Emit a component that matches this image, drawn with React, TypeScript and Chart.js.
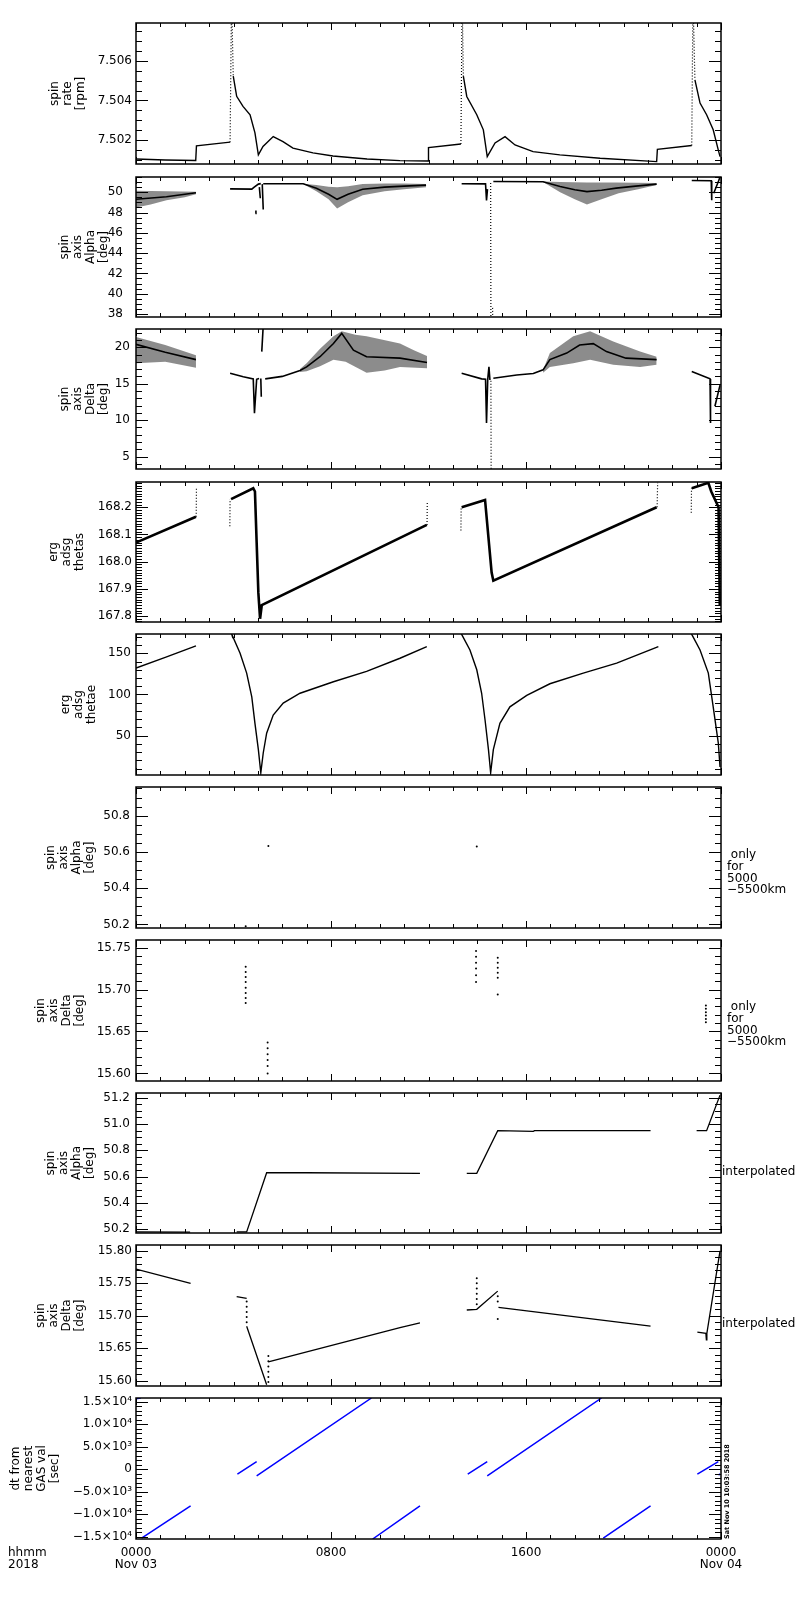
import React, { useEffect, useRef } from 'react';
import { Chart, registerables } from 'chart.js';

Chart.register(...registerables);
Chart.defaults.font.family = '"DejaVu Sans", sans-serif';
Chart.defaults.color = '#000';

// points are [hours after 0000 UT Nov 03, value]; null breaks the trace
type Pt = [number, number] | null;

const hourTicks = [0, 8, 16, 24];
const hourTickLabels = [['0000', 'Nov 03'], ['0800'], ['1600'], ['0000', 'Nov 04']];

// spin rate [rpm]
const spinRate: Pt[] = [
  [0, 7.50105], [1.2, 7.5010], [2.45, 7.50098], [2.48, 7.50171], [3.86, 7.5019], null,
  [3.99, 7.50522], [4.13, 7.50421], [4.39, 7.5037], [4.68, 7.50328], [4.88, 7.50237], [5.02, 7.50126],
  [5.21, 7.50168], [5.63, 7.50218], [6.03, 7.50193], [6.44, 7.5016], [7.26, 7.50136], [8.08, 7.5012],
  [9.48, 7.50105], [10.83, 7.50097], [11.98, 7.50095], [12.0, 7.50163], [13.33, 7.50181], null,
  [13.43, 7.50522], [13.57, 7.5042], [13.98, 7.50328], [14.25, 7.50252], [14.41, 7.50117], [14.73, 7.50186],
  [15.14, 7.50218], [15.55, 7.50176], [16.29, 7.50142], [17.39, 7.50126], [19.04, 7.50109], [21.36, 7.50092],
  [21.39, 7.50154], [22.8, 7.50173], null,
  [22.93, 7.50504], [23.14, 7.50387], [23.41, 7.50328], [23.68, 7.50252], [23.89, 7.5015], [23.96, 7.50117],
];
const spinRateSpikes: Pt[] = [
  [3.86, 7.5019], [3.92, 7.5092], [3.99, 7.50522], null,
  [13.33, 7.50181], [13.38, 7.5092], [13.43, 7.50522], null,
  [22.8, 7.50173], [22.85, 7.5092], [22.93, 7.50504],
];
const rateTicks = [7.502, 7.504, 7.506];
const rateTickLabels = ['7.502', '7.504', '7.506'];

// spin axis alpha [deg]
const alphaLine: Pt[] = [
  [0, 49.3], [1.25, 49.55], [2.46, 49.95], null,
  [3.86, 50.33], [4.75, 50.3], [4.85, 50.5], [5.02, 50.8], [5.12, 50.85], null,
  [5.06, 50.5], [5.1, 49.4], null, [5.18, 50.8], [5.22, 48.3], null, [4.9, 47.9], [4.92, 48.2], null,
  [5.22, 50.83], [6.86, 50.83], [7.4, 50.4], [7.9, 49.8], [8.25, 49.3], [8.7, 49.8], [9.3, 50.3],
  [10.2, 50.5], [11.0, 50.6], [11.9, 50.7], null,
  [13.36, 50.83], [14.34, 50.82], [14.38, 49.2], [14.42, 50.3], null,
  [14.66, 51.05], [16.7, 51.03], [17.4, 50.56], [18.0, 50.25], [18.5, 50.06], [19.1, 50.2],
  [19.7, 50.4], [20.5, 50.6], [21.36, 50.8], null,
  [22.8, 51.16], [23.6, 51.13], [23.62, 49.2], null, [23.7, 49.9], [23.75, 50.2], [23.9, 51.1], [23.96, 51.5],
];
const alphaDrop: Pt[] = [[14.55, 50.9], [14.56, 37.5], null, [14.63, 38.6], [14.635, 37.5]];
const alphaBandTop: Pt[][] = [
  [[0, 50.15], [1.25, 50.1], [2.46, 50.05]],
  [[6.86, 50.83], [7.4, 50.7], [7.9, 50.55], [8.25, 50.5], [8.7, 50.6], [9.3, 50.8], [10.2, 50.85], [11.0, 50.85], [11.9, 50.82]],
  [[16.7, 51.05], [17.4, 51.0], [18.5, 50.95], [19.7, 50.95], [21.36, 50.9]],
];
const alphaBandLow: Pt[][] = [
  [[0, 48.5], [0.6, 48.8], [1.25, 49.2], [2.0, 49.5], [2.46, 49.8]],
  [[6.86, 50.8], [7.4, 50.1], [7.9, 49.3], [8.25, 48.4], [8.7, 49.0], [9.3, 49.7], [10.2, 50.1], [11.0, 50.3], [11.9, 50.5]],
  [[16.7, 51.0], [17.4, 50.0], [18.0, 49.3], [18.5, 48.8], [19.1, 49.3], [19.8, 49.9], [20.6, 50.3], [21.36, 50.7]],
];
const alphaTicks = [38, 40, 42, 44, 46, 48, 50];
const alphaTickLabels = ['38', '40', '42', '44', '46', '48', '50'];

// spin axis delta [deg]
const deltaLine: Pt[] = [
  [0, 20.4], [1.2, 19.3], [2.46, 18.3], null,
  [3.86, 16.44], [4.4, 15.95], [4.81, 15.66], [4.86, 10.96], [4.95, 15.6], [5.05, 15.7], null,
  [5.12, 15.7], [5.14, 13.2], null, [5.16, 19.4], [5.22, 23.0], null,
  [5.3, 15.66], [6.0, 16.0], [6.73, 16.8], [7.0, 17.3], [7.55, 18.7], [8.1, 20.5], [8.44, 21.9],
  [8.92, 19.6], [9.46, 18.7], [10.83, 18.5], [11.94, 17.9], null,
  [13.36, 16.44], [14.18, 15.66], [14.34, 15.6], [14.38, 9.6], [14.43, 15.6], [14.48, 17.3], [14.52, 15.5], null,
  [14.66, 15.75], [15.62, 16.2], [16.3, 16.4], [16.7, 16.9], [16.98, 18.3], [17.67, 19.2], [18.2, 20.3],
  [18.76, 20.5], [19.3, 19.4], [20.1, 18.5], [21.36, 18.3], null,
  [22.8, 16.66], [23.55, 15.66], [23.57, 9.6], null, [23.75, 11.9], [23.96, 14.8],
];
const deltaDrop: Pt[] = [[14.56, 15.4], [14.57, 3.0]];
const deltaBandTop: Pt[][] = [
  [[0, 21.4], [1.2, 20.3], [2.46, 18.9]],
  [[6.73, 17.0], [7.0, 17.8], [7.55, 19.8], [8.1, 21.5], [8.44, 22.2], [9.0, 21.7], [9.46, 21.5], [10.83, 20.5], [11.4, 19.6], [11.94, 18.8]],
  [[16.7, 16.9], [16.98, 19.2], [17.94, 21.5], [18.63, 22.2], [19.58, 20.8], [20.68, 19.4], [21.36, 18.7]],
];
const deltaBandLow: Pt[][] = [
  [[0, 17.8], [1.2, 18.0], [2.46, 17.2]],
  [[6.73, 16.6], [7.0, 16.7], [7.55, 17.4], [8.1, 18.3], [8.6, 18.0], [9.46, 16.5], [10.2, 16.8], [10.83, 17.3], [11.94, 17.1]],
  [[16.7, 16.5], [16.98, 17.3], [17.94, 17.8], [18.63, 18.3], [19.58, 17.6], [20.68, 17.3], [21.36, 17.6]],
];
const deltaTicks = [5, 10, 15, 20];
const deltaTickLabels = ['5', '10', '15', '20'];

// erg adsg thetas
const thetas: Pt[] = [
  [0, 168.07], [2.46, 168.165], null,
  [3.9, 168.23], [4.81, 168.27], [4.88, 168.258], [4.95, 168.07], [5.02, 167.885],
  [5.09, 167.79], [5.16, 167.84], [11.93, 168.135], null,
  [13.36, 168.2], [14.32, 168.227], [14.59, 167.96], [14.66, 167.93], [21.36, 168.2], null,
  [22.8, 168.27], [23.48, 168.29], [23.6, 168.258], [23.9, 168.2], [23.95, 167.84],
];
const thetasSteps: Pt[] = [
  [2.47, 168.165], [2.48, 168.27], null,
  [3.85, 168.13], [3.86, 168.23], null,
  [11.94, 168.135], [11.95, 168.22], null,
  [13.33, 168.115], [13.34, 168.2], null,
  [21.38, 168.2], [21.4, 168.29], null,
  [22.78, 168.18], [22.79, 168.27],
];
const thetasTicks = [167.8, 167.9, 168.0, 168.1, 168.2];
const thetasTickLabels = ['167.8', '167.9', '168.0', '168.1', '168.2'];

// erg adsg thetae
const thetae: Pt[] = [
  [0, 132], [1.2, 145], [2.46, 159], null,
  [3.9, 176], [3.93, 173], [4.27, 150], [4.54, 126], [4.75, 97], [4.88, 65], [5.02, 33], [5.12, 5],
  [5.22, 29], [5.36, 53], [5.63, 75], [6.04, 89.5], [6.73, 101.5], [8.1, 115.5], [9.46, 128],
  [10.83, 144], [11.93, 158], null,
  [13.3, 176], [13.36, 173], [13.7, 154], [13.98, 130], [14.18, 101.5], [14.32, 69], [14.46, 33],
  [14.55, 5], [14.66, 33], [14.93, 65], [15.34, 85], [16.03, 99], [16.98, 113], [18.35, 126],
  [19.72, 138], [21.43, 158], null,
  [22.75, 176], [22.8, 173], [23.14, 154], [23.48, 126], [23.68, 85], [23.89, 41], [23.96, 12],
];
const thetaeTicks = [50, 100, 150];
const thetaeTickLabels = ['50', '100', '150'];

// spin axis alpha, only for 5000-5500 km
const alphaShell: Pt[] = [[4.5, 50.19], [5.43, 50.633], [13.98, 50.63]];
const alphaShellTicks = [50.2, 50.4, 50.6, 50.8];
const alphaShellTickLabels = ['50.2', '50.4', '50.6', '50.8'];

// spin axis delta, only for 5000-5500 km
const deltaShell: Pt[] = [
  [4.5, 15.727], [4.5, 15.721], [4.5, 15.715], [4.5, 15.709], [4.5, 15.702], [4.5, 15.696], [4.5, 15.69], [4.5, 15.684],
  [5.4, 15.637], [5.4, 15.63], [5.4, 15.623], [5.4, 15.616], [5.4, 15.609], [5.4, 15.6],
  [13.95, 15.746], [13.95, 15.739], [13.95, 15.732], [13.95, 15.725], [13.95, 15.717], [13.95, 15.709],
  [14.84, 15.738], [14.84, 15.732], [14.84, 15.726], [14.84, 15.72], [14.84, 15.714], [14.84, 15.694],
  [23.38, 15.681], [23.38, 15.677], [23.38, 15.673], [23.38, 15.669], [23.38, 15.665], [23.38, 15.661],
];
const deltaShellTicks = [15.6, 15.65, 15.7, 15.75];
const deltaShellTickLabels = ['15.60', '15.65', '15.70', '15.75'];

// spin axis alpha, interpolated
const alphaInterp: Pt[] = [
  [0, 50.18], [2.22, 50.178], null,
  [4.13, 50.18], [4.54, 50.18], [5.36, 50.63], [7.0, 50.63], [11.65, 50.625], null,
  [13.57, 50.625], [13.98, 50.625], [14.84, 50.95], [16.3, 50.945], [16.35, 50.95], [21.11, 50.95], null,
  [23.0, 50.95], [23.41, 50.95], [23.96, 51.22],
];
const alphaInterpTicks = [50.2, 50.4, 50.6, 50.8, 51.0, 51.2];
const alphaInterpTickLabels = ['50.2', '50.4', '50.6', '50.8', '51.0', '51.2'];

// spin axis delta, interpolated
const deltaInterp: Pt[] = [
  [0, 15.772], [2.24, 15.75], null,
  [4.13, 15.7296], [4.54, 15.727], null, [4.54, 15.684], [5.36, 15.594], null,
  [5.43, 15.629], [10.83, 15.682], [11.65, 15.689], null,
  [13.57, 15.709], [13.98, 15.71], [14.84, 15.738], null, [14.87, 15.713], [21.11, 15.684], null,
  [23.03, 15.675], [23.38, 15.673], [23.4, 15.663], [23.42, 15.673], [23.96, 15.8],
];
const deltaInterpDots: Pt[] = [
  [4.54, 15.722], [4.54, 15.714], [4.54, 15.706], [4.54, 15.698], [4.54, 15.69],
  [5.43, 15.638], [5.43, 15.63], [5.43, 15.622], [5.43, 15.614], [5.43, 15.606], [5.43, 15.598],
  [13.98, 15.758], [13.98, 15.75], [13.98, 15.742], [13.98, 15.734], [13.98, 15.726], [13.98, 15.718],
  [14.84, 15.73], [14.84, 15.722], [14.84, 15.695],
];
const deltaInterpTicks = [15.6, 15.65, 15.7, 15.75, 15.8];
const deltaInterpTickLabels = ['15.60', '15.65', '15.70', '15.75', '15.80'];

// dt from nearest GAS value [sec]
const gasDt: Pt[] = [
  [0, 15650], [0.2, 15800], null,
  [0.23, -15300], [2.24, -8140], null,
  [4.16, -1110], [4.95, 1690], null,
  [4.95, -1490], [9.66, 15800], null,
  [9.71, -15500], [11.65, -8140], null,
  [13.61, -1110], [14.41, 1690], null,
  [14.41, -1490], [19.1, 15800], null,
  [19.17, -15300], [21.11, -8140], null,
  [23.03, -1110], [23.89, 1690], null,
  [23.9, -1300], [23.96, -1050],
];
const dtTicks = [-15000, -10000, -5000, 0, 5000, 10000, 15000];
const dtTickLabels = ['\u22121.5\u00d710\u2074', '\u22121.0\u00d710\u2074', '\u22125.0\u00d710\u00b3', '0', '5.0\u00d710\u00b3', '1.0\u00d710\u2074', '1.5\u00d710\u2074'];

type Kind = 'line' | 'dots' | 'bandTop' | 'bandLow';
interface Series { pts: Pt[]; kind?: Kind; width?: number; color?: string; dash?: number[] }
interface PanelCfg {
  top: number; bottom: number;
  min: number; max: number; minor: number;
  ticks: number[]; labels: string[];
  title: string[]; titleX: number; labelPad: number;
  note?: string[]; noteX?: number; noteY?: number;
  series: Series[];
}

const bands = (tops: Pt[][], lows: Pt[][]): Series[] =>
  tops.flatMap((t, i) => [{ pts: t, kind: 'bandTop' as Kind }, { pts: lows[i], kind: 'bandLow' as Kind }]);

const shellNote = [' only', 'for', '5000', '\u22125500km'];
const dotted = [1, 2];

const panels: PanelCfg[] = [
  { top: 23, bottom: 164, min: 7.5008, max: 7.5079, minor: 0.0005, ticks: rateTicks, labels: rateTickLabels,
    title: ['spin', 'rate', '[rpm]'], titleX: 80.5, labelPad: 4,
    series: [{ pts: spinRate, width: 1.4 }, { pts: spinRateSpikes, width: 1.2, dash: dotted }] },
  { top: 177, bottom: 317, min: 37.7, max: 51.5, minor: 0.5, ticks: alphaTicks, labels: alphaTickLabels,
    title: ['spin', 'axis', 'Alpha', '[deg]'], titleX: 104, labelPad: 13,
    series: [...bands(alphaBandTop, alphaBandLow), { pts: alphaLine, width: 1.6 }, { pts: alphaDrop, width: 1.2, dash: dotted }] },
  { top: 329, bottom: 469, min: 3.3, max: 22.5, minor: 1, ticks: deltaTicks, labels: deltaTickLabels,
    title: ['spin', 'axis', 'Delta', '[deg]'], titleX: 104, labelPad: 6,
    series: [...bands(deltaBandTop, deltaBandLow), { pts: deltaLine, width: 1.6 }, { pts: deltaDrop, width: 1.2, dash: dotted }] },
  { top: 482, bottom: 622, min: 167.778, max: 168.293, minor: 0.01, ticks: thetasTicks, labels: thetasTickLabels,
    title: ['erg', 'adsg', 'thetas'], titleX: 79.5, labelPad: 4,
    series: [{ pts: thetas, width: 2.6 }, { pts: thetasSteps, width: 1.2, dash: dotted }] },
  { top: 634, bottom: 775, min: 2.3, max: 173.4, minor: 10, ticks: thetaeTicks, labels: thetaeTickLabels,
    title: ['erg', 'adsg', 'thetae'], titleX: 92, labelPad: 5,
    series: [{ pts: thetae, width: 1.4 }] },
  { top: 787, bottom: 928, min: 50.18, max: 50.958, minor: 0.05, ticks: alphaShellTicks, labels: alphaShellTickLabels,
    title: ['spin', 'axis', 'Alpha', '[deg]'], titleX: 90, labelPad: 6,
    note: shellNote, noteX: 6, noteY: 68,
    series: [{ pts: alphaShell, kind: 'dots' }] },
  { top: 940, bottom: 1081, min: 15.591, max: 15.759, minor: 0.01, ticks: deltaShellTicks, labels: deltaShellTickLabels,
    title: ['spin', 'axis', 'Delta', '[deg]'], titleX: 80, labelPad: 5,
    note: shellNote, noteX: 6, noteY: 67,
    series: [{ pts: deltaShell, kind: 'dots' }] },
  { top: 1093, bottom: 1233, min: 50.172, max: 51.236, minor: 0.05, ticks: alphaInterpTicks, labels: alphaInterpTickLabels,
    title: ['spin', 'axis', 'Alpha', '[deg]'], titleX: 90, labelPad: 6,
    note: ['interpolated'], noteX: 1, noteY: 79,
    series: [{ pts: alphaInterp, width: 1.3 }] },
  { top: 1245, bottom: 1386, min: 15.592, max: 15.809, minor: 0.01, ticks: deltaInterpTicks, labels: deltaInterpTickLabels,
    title: ['spin', 'axis', 'Delta', '[deg]'], titleX: 80, labelPad: 4,
    note: ['interpolated'], noteX: 1, noteY: 79,
    series: [{ pts: deltaInterp, width: 1.3 }, { pts: deltaInterpDots, kind: 'dots' }] },
  { top: 1398, bottom: 1539, min: -15500, max: 15800, minor: 1000, ticks: dtTicks, labels: dtTickLabels,
    title: ['dt from', 'nearest', 'GAS val', '[sec]'], titleX: 55, labelPad: 4,
    series: [{ pts: gasDt, width: 1.5, color: '#0000ff' }] },
];

const PAD = 12;
const XAXIS_H = 50;

function toXY(pts: Pt[]) {
  let lastX = 0;
  return pts.map((p) => {
    if (p === null) return { x: lastX, y: null };
    lastX = p[0];
    return { x: p[0], y: p[1] };
  });
}

function minorValues(p: PanelCfg) {
  const out: number[] = [];
  for (let k = Math.ceil(p.min / p.minor - 1e-6); k * p.minor <= p.max + 1e-9; k++) out.push(k * p.minor);
  return out;
}

function idlFrame(p: PanelCfg, last: boolean) {
  return {
    id: 'idlFrame',
    afterDraw(chart: any) {
      const { ctx, chartArea: a } = chart;
      const xs = chart.scales.x;
      const ys = chart.scales.y;
      ctx.save();
      ctx.strokeStyle = '#000';
      ctx.lineWidth = 1;
      ctx.beginPath();
      const yTick = (v: number, len: number) => {
        const py = Math.round(ys.getPixelForValue(v)) + 0.5;
        if (py < a.top || py > a.bottom) return;
        ctx.moveTo(a.left, py); ctx.lineTo(a.left + len, py);
        ctx.moveTo(a.right, py); ctx.lineTo(a.right - len, py);
      };
      minorValues(p).forEach((v) => yTick(v, 6));
      p.ticks.forEach((v) => yTick(v, 12));
      for (let h = 0; h <= 24; h++) {
        const px = Math.round(xs.getPixelForValue(h)) + 0.5;
        const len = h % 8 === 0 ? 7 : 4;
        ctx.moveTo(px, a.top); ctx.lineTo(px, a.top + len);
        ctx.moveTo(px, a.bottom); ctx.lineTo(px, a.bottom - len);
      }
      ctx.stroke();
      ctx.lineWidth = 1.5;
      ctx.strokeRect(a.left, a.top, a.right - a.left, a.bottom - a.top);

      // stacked, rotated axis title
      ctx.fillStyle = '#000';
      ctx.font = '12px "DejaVu Sans"';
      ctx.textAlign = 'center';
      ctx.textBaseline = 'middle';
      const cy = (a.top + a.bottom) / 2;
      const n = p.title.length;
      p.title.forEach((line, i) => {
        ctx.save();
        ctx.translate(p.titleX - (n - 1 - i) * 13, cy);
        ctx.rotate(-Math.PI / 2);
        ctx.fillText(line, 0, 0);
        ctx.restore();
      });

      if (p.note) {
        ctx.textAlign = 'left';
        p.note.forEach((line, i) => {
          ctx.fillText(line, a.right + (p.noteX ?? 0), a.top + (p.noteY ?? 0) + i * 11.7);
        });
      }

      if (last) {
        ctx.textAlign = 'left';
        ctx.fillText('hhmm', 8, a.bottom + 14);
        ctx.fillText('2018', 8, a.bottom + 26);
        ctx.save();
        ctx.font = 'bold 6.5px "DejaVu Sans"';
        ctx.translate(a.right + 6, a.bottom);
        ctx.rotate(-Math.PI / 2);
        ctx.fillText('Sat Nov 10 10:03:58 2018', 0, 0);
        ctx.restore();
      }
      ctx.restore();
    },
  };
}

function Panel({ p, last }: { p: PanelCfg; last: boolean }) {
  const ref = useRef<HTMLCanvasElement | null>(null);
  const h = p.bottom - p.top + PAD + (last ? XAXIS_H : PAD);

  useEffect(() => {
    if (!ref.current) return;
    const datasets = p.series.map((s) => {
      const color = s.color ?? '#000';
      const base: any = {
        data: toXY(s.pts),
        borderColor: color,
        backgroundColor: color,
        borderWidth: s.width ?? 1.2,
        borderDash: s.dash ?? [],
        pointRadius: 0,
        tension: 0,
        spanGaps: false,
        fill: false,
      };
      if (s.kind === 'dots') {
        return { ...base, showLine: false, pointRadius: 1, pointBorderWidth: 0, pointBackgroundColor: color };
      }
      if (s.kind === 'bandTop') {
        return { ...base, borderColor: 'rgba(0,0,0,0)', borderWidth: 1 };
      }
      if (s.kind === 'bandLow') {
        return { ...base, borderColor: 'rgba(0,0,0,0)', borderWidth: 1, fill: '-1', backgroundColor: 'rgba(0,0,0,0.45)' };
      }
      return base;
    });

    const chart = new Chart(ref.current, {
      type: 'line',
      data: { datasets },
      options: {
        animation: false,
        responsive: false,
        maintainAspectRatio: false,
        events: [],
        layout: { padding: { top: PAD, bottom: last ? 0 : PAD, left: 0, right: 79 } },
        plugins: { legend: { display: false }, tooltip: { enabled: false } },
        scales: {
          x: {
            type: 'linear',
            min: 0,
            max: 24,
            display: last,
            grid: { display: false, drawTicks: false },
            border: { display: false },
            afterBuildTicks: (s: any) => { s.ticks = hourTicks.map((v) => ({ value: v })); },
            afterFit: (s: any) => {
              if (last) s.height = XAXIS_H;
              s.paddingLeft = 0;
              s.paddingRight = 0;
            },
            ticks: {
              autoSkip: false,
              maxRotation: 0,
              padding: 8,
              color: '#000',
              font: { size: 12, lineHeight: 1 },
              callback: (_v: any, i: number) => hourTickLabels[i],
            },
          },
          y: {
            type: 'linear',
            min: p.min,
            max: p.max,
            grid: { display: false, drawTicks: false },
            border: { display: false },
            afterBuildTicks: (s: any) => { s.ticks = p.ticks.map((v) => ({ value: v })); },
            afterFit: (s: any) => { s.width = 136; s.paddingTop = 0; s.paddingBottom = 0; },
            ticks: {
              padding: p.labelPad,
              color: '#000',
              font: { size: 12 },
              callback: (_v: any, i: number) => p.labels[i],
            },
          },
        },
      } as any,
      plugins: [idlFrame(p, last)],
    });
    return () => chart.destroy();
  }, [p, last]);

  return (
    <canvas
      ref={ref}
      width={800}
      height={h}
      style={{ position: 'absolute', left: 0, top: p.top - PAD, width: 800, height: h }}
    />
  );
}

export default function App() {
  return (
    <div style={{ position: 'absolute', left: 0, top: 0, width: 800, height: 1600, background: '#fff' }}>
      {panels.map((p, i) => (
        <Panel key={i} p={p} last={i === panels.length - 1} />
      ))}
    </div>
  );
}
